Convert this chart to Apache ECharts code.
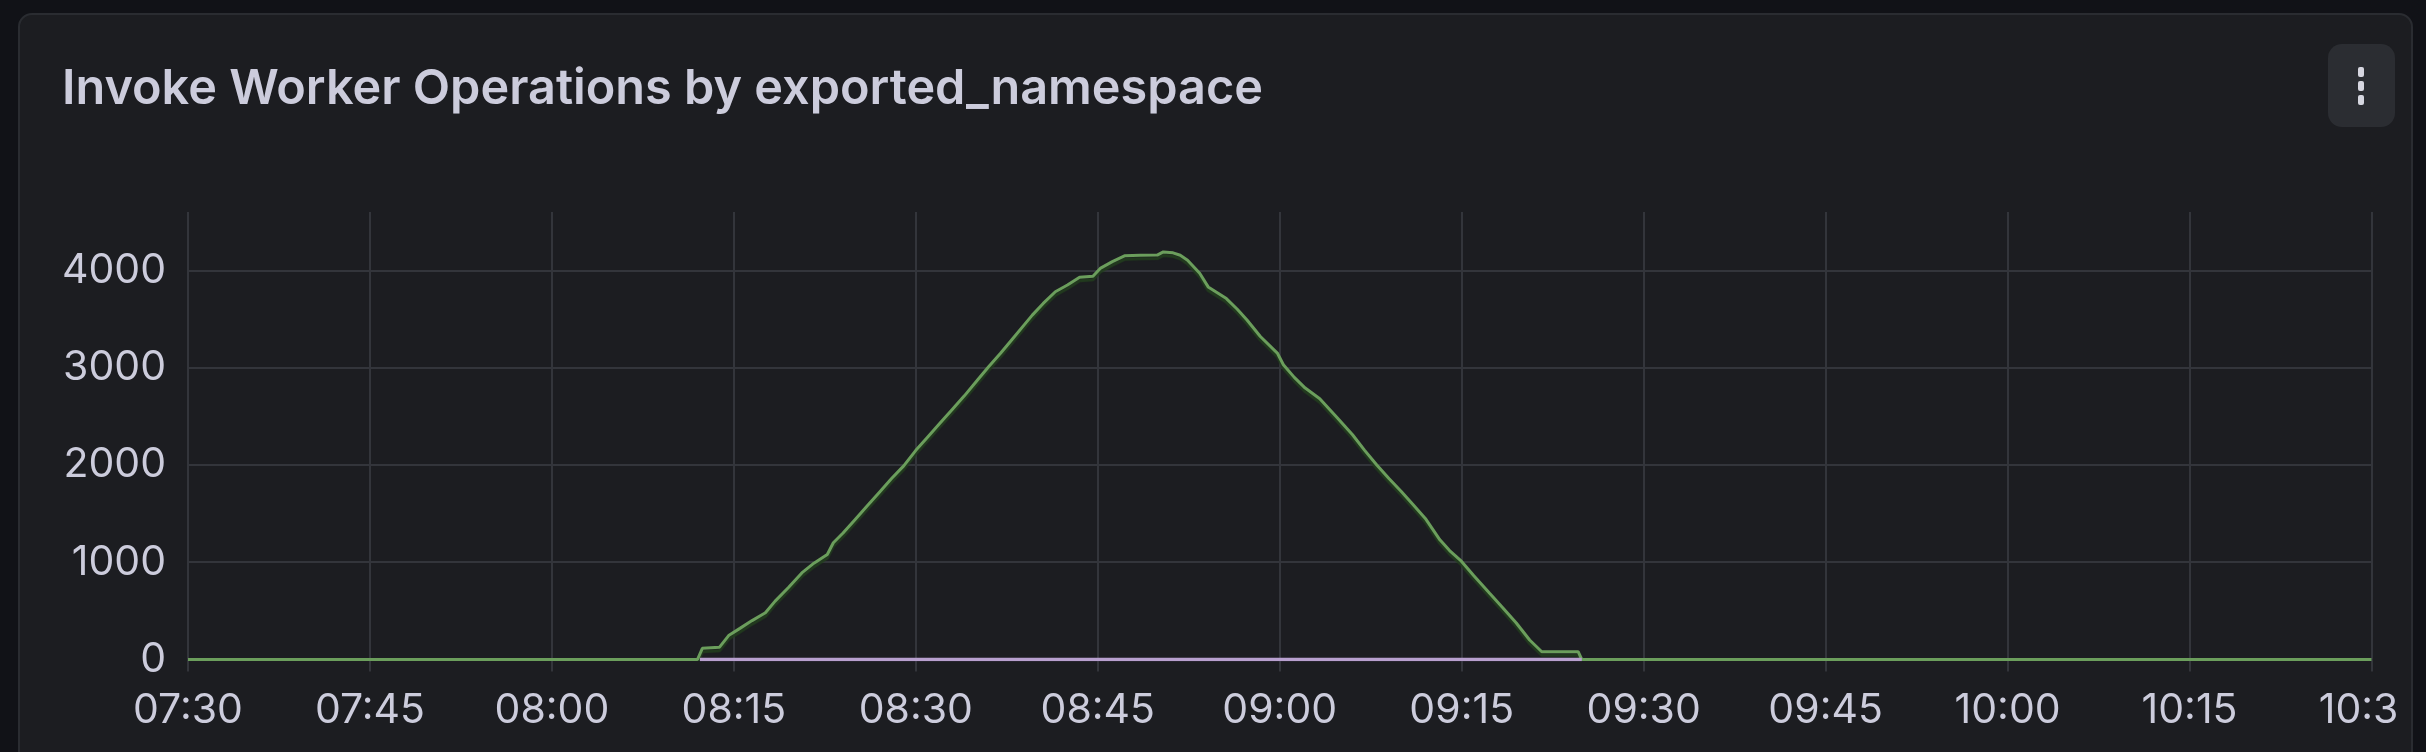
<!DOCTYPE html>
<html>
<head>
<meta charset="utf-8">
<script src="https://cdn.jsdelivr.net/npm/echarts@6/dist/echarts.min.js"></script>
<style>
  html, body { margin: 0; padding: 0; width: 2426px; height: 752px; background: #111217; overflow: hidden; }
  #panel { position: absolute; left: 18px; top: 13px; width: 2391px; height: 800px; background: #1c1d21; border: 2px solid #2a2c31; border-radius: 14px; }
  #chart { position: absolute; left: 0; top: 0; width: 2396px; height: 752px; }
</style>
</head>
<body>
<div id="panel"></div>
<div id="chart"></div>
<script>
// Series: "Invoke Worker Operations" (green) – time / value pairs
const greenTimes = [
  "07:30:00","08:12:00","08:12:24","08:13:48","08:14:36","08:15:30","08:16:30","08:17:36","08:18:24","08:19:30",
  "08:20:36","08:21:36","08:22:42","08:23:12","08:24:00","08:25:00","08:26:00","08:27:00","08:28:00","08:29:00",
  "08:30:00","08:31:00","08:32:00","08:33:00","08:34:00","08:35:00","08:36:00","08:37:00","08:38:00","08:39:00",
  "08:39:36","08:40:30","08:41:30","08:42:30","08:43:30","08:44:36","08:45:12","08:46:12","08:47:12","08:48:30",
  "08:49:54","08:50:24","08:51:12","08:51:48","08:52:24","08:53:24","08:54:06","08:55:36","08:56:30","08:57:18",
  "08:58:24","08:59:48","09:00:18","09:01:12","09:02:06","09:03:18","09:04:42","09:06:00","09:07:00","09:08:00",
  "09:09:00","09:10:00","09:11:00","09:12:00","09:13:12","09:14:00","09:14:54","09:16:00","09:17:18","09:18:24",
  "09:19:30","09:20:36","09:21:36","09:24:36","09:24:54","10:30:00"
];
const greenValues = [
  0, 0, 115, 125, 250, 320, 400, 480, 600, 740,
  890, 990, 1080, 1200, 1300, 1440, 1580, 1720, 1860, 1990,
  2150, 2290, 2430, 2570, 2710, 2860, 3010, 3150, 3300, 3450,
  3540, 3660, 3780, 3850, 3930, 3940, 4020, 4090, 4150, 4155,
  4157, 4190, 4180, 4155, 4105, 3970, 3830, 3710, 3600, 3490,
  3320, 3150, 3030, 2900, 2790, 2680, 2490, 2310, 2150, 2000,
  1860, 1730, 1590, 1450, 1230, 1120, 1020, 860, 680, 530,
  375, 200, 80, 80, 0, 0
];
// Series: purple (flat at zero)
const purpleTimes = ["08:12:12", "09:24:54"];
const purpleValues = [0, 0];

// Axis ticks
const xTickStart = "07:30";
const xTickEnd = "10:30";
const xTickStepMinutes = 15;
const yTickValues = [0, 1000, 2000, 3000, 4000];
const titleText = "Invoke Worker Operations by exported_namespace";

function toMinutes(s) {
  const p = s.split(":").map(Number);
  return p[0] * 60 + p[1] + (p[2] || 0) / 60;
}
function fmt(m) {
  const h = Math.floor(m / 60), mm = Math.round(m - h * 60);
  return String(h).padStart(2, "0") + ":" + String(mm).padStart(2, "0");
}
const greenData = greenTimes.map((t, i) => [toMinutes(t), greenValues[i]]);
const purpleData = purpleTimes.map((t, i) => [toMinutes(t), purpleValues[i]]);

const gridColor = "#33353b";
const textColor = "#ccccdc";
const font = "Inter, 'Noto Sans', sans-serif";

const chart = echarts.init(document.getElementById("chart"), null, { renderer: "canvas" });
chart.setOption({
  animation: false,
  backgroundColor: "transparent",
  title: {
    text: titleText,
    left: 57, top: 60,
    textStyle: { color: textColor, fontFamily: font, fontSize: 48.6, fontWeight: 600 }
  },
  graphic: [
    { type: "rect", shape: { x: 2328, y: 44, width: 67, height: 83, r: 14 }, style: { fill: "#2b2d32" } },
    { type: "rect", shape: { x: 2358, y: 67, width: 6, height: 10, r: 2 }, style: { fill: "#d6d6e0" } },
    { type: "rect", shape: { x: 2358, y: 81, width: 6, height: 10, r: 2 }, style: { fill: "#d6d6e0" } },
    { type: "rect", shape: { x: 2358, y: 95, width: 6, height: 10, r: 2 }, style: { fill: "#d6d6e0" } }
  ],
  grid: { left: 188, right: 24.5, top: 212, bottom: 92.5, containLabel: false, outerBoundsMode: "none" },
  xAxis: {
    type: "value",
    min: toMinutes(xTickStart),
    max: toMinutes(xTickEnd),
    interval: xTickStepMinutes,
    axisLine: { show: false },
    axisTick: { show: true, length: 12, lineStyle: { color: gridColor, width: 2 } },
    splitLine: { show: true, lineStyle: { color: gridColor, width: 2 } },
    axisLabel: {
      color: textColor, fontFamily: font, fontSize: 41, margin: 31,
      showMinLabel: true, showMaxLabel: true, hideOverlap: false,
      formatter: v => fmt(v)
    }
  },
  yAxis: {
    type: "value",
    min: 0,
    max: 4600,
    interval: 1000,
    axisLine: { show: false },
    axisTick: { show: false },
    splitLine: { show: true, showMaxLine: false, lineStyle: { color: gridColor, width: 2 } },
    axisLabel: {
      color: textColor, fontFamily: font, fontSize: 41, margin: 22,
      showMaxLabel: false,
      formatter: v => (yTickValues.indexOf(v) >= 0 ? String(v) : "")
    }
  },
  series: [
    {
      name: "green", type: "line", data: greenData, showSymbol: false, symbol: "none",
      lineStyle: { color: "#6b9e5c", width: 3, shadowColor: "rgba(34,62,30,0.9)", shadowOffsetY: 3.5, shadowBlur: 1 }, z: 2
    },
    {
      name: "purple", type: "line", data: purpleData, showSymbol: false, symbol: "none",
      lineStyle: { color: "#b8a0cf", width: 3.5, shadowColor: "rgba(44,30,64,0.95)", shadowOffsetY: 3.5, shadowBlur: 1 }, z: 3
    }
  ]
});
</script>
</body>
</html>
